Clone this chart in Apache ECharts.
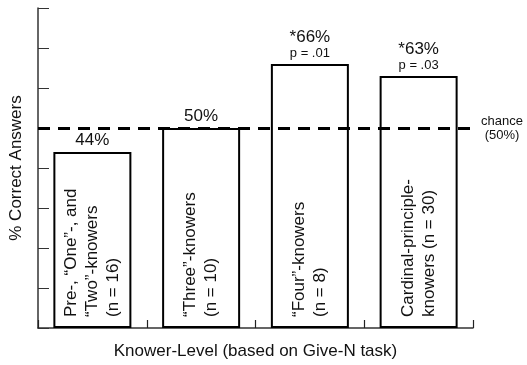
<!DOCTYPE html>
<html>
<head>
<meta charset="utf-8">
<script src="https://cdn.jsdelivr.net/npm/echarts@6/dist/echarts.min.js"></script>
<style>
  html, body { margin: 0; padding: 0; background: #fff; }
  #chart { width: 527px; height: 365px; }
</style>
</head>
<body>
<div id="chart"></div>
<script>
// Knower-level groups (with sample sizes) and their accuracy
const categories = [
  'Pre-, “One”-, and\n“Two”-knowers\n(n = 16)',
  '“Three”-knowers\n(n = 10)',
  '“Four”-knowers\n(n = 8)',
  'Cardinal-principle-\nknowers (n = 30)'
];
const percentCorrect = [44, 50, 66, 63];
const significanceMark = ['', '', '*', '*'];
const pValues = ['', '', '.01', '.03'];
const chanceLevel = 50;
const yTicks = [0, 10, 20, 30, 40, 50, 60, 70, 80];

const FONT = "'Liberation Sans', Arial, Helvetica, sans-serif";

const chart = echarts.init(document.getElementById('chart'), null, { renderer: 'canvas' });

chart.setOption({
  animation: false,
  backgroundColor: '#fff',
  grid: { left: 37, right: 54, top: 8, bottom: 36 },
  xAxis: {
    type: 'category',
    data: categories,
    name: 'Knower-Level (based on Give-N task)',
    nameLocation: 'middle',
    nameGap: 15,
    nameTextStyle: { fontFamily: FONT, fontSize: 17, color: '#111' },
    axisLine: { lineStyle: { color: '#333', width: 1.5 } },
    axisTick: { show: true, interval: 0, inside: true, length: 8, lineStyle: { color: '#222', width: 1.2 } },
    axisLabel: { show: false, interval: 0 }
  },
  yAxis: {
    type: 'value',
    min: yTicks[0],
    max: yTicks[yTicks.length - 1],
    interval: yTicks[1] - yTicks[0],
    name: '% Correct Answers',
    nameLocation: 'middle',
    nameGap: 13,
    nameTextStyle: { fontFamily: FONT, fontSize: 17, color: '#111' },
    axisLine: { show: true, lineStyle: { color: '#333', width: 1.5 } },
    axisTick: { show: true, inside: true, length: 11, lineStyle: { color: '#333', width: 1 } },
    axisLabel: { show: false },
    splitLine: { show: false }
  },
  series: [
    {
      type: 'bar',
      data: percentCorrect,
      barWidth: 78,
      itemStyle: { color: '#fff', borderColor: '#000', borderWidth: 2 },
      label: {
        show: true,
        position: 'top',
        distance: 3,
        fontFamily: FONT,
        formatter: p => {
          const i = p.dataIndex;
          const main = '{a|' + significanceMark[i] + percentCorrect[i] + '%}';
          return pValues[i] ? main + '\n{b|p = ' + pValues[i] + '}' : main;
        },
        rich: {
          a: { fontFamily: FONT, fontSize: 17, lineHeight: 18, color: '#111' },
          b: { fontFamily: FONT, fontSize: 13, lineHeight: 15, color: '#111' }
        }
      },
      markLine: {
        silent: true,
        symbol: 'none',
        lineStyle: { color: '#000', width: 3, type: [12, 8] },
        label: {
          show: true,
          position: 'end',
          distance: 7,
          formatter: '{c|chance}\n{c|(50%)}',
          rich: {
            c: { fontFamily: FONT, fontSize: 13, lineHeight: 14, width: 44, align: 'center', color: '#111' }
          }
        },
        data: [{ yAxis: chanceLevel }]
      },
      z: 2
    },
    {
      // group names written upward inside each bar
      type: 'bar',
      data: percentCorrect,
      barWidth: 78,
      barGap: '-100%',
      silent: true,
      itemStyle: { color: 'rgba(0,0,0,0)', borderWidth: 0 },
      label: {
        show: true,
        position: 'insideBottom',
        rotate: 90,
        align: 'left',
        verticalAlign: 'middle',
        distance: 11,
        fontFamily: FONT,
        fontSize: 17,
        lineHeight: 21,
        color: '#111',
        formatter: p => categories[p.dataIndex]
      },
      z: 3
    }
  ]
});
</script>
</body>
</html>
